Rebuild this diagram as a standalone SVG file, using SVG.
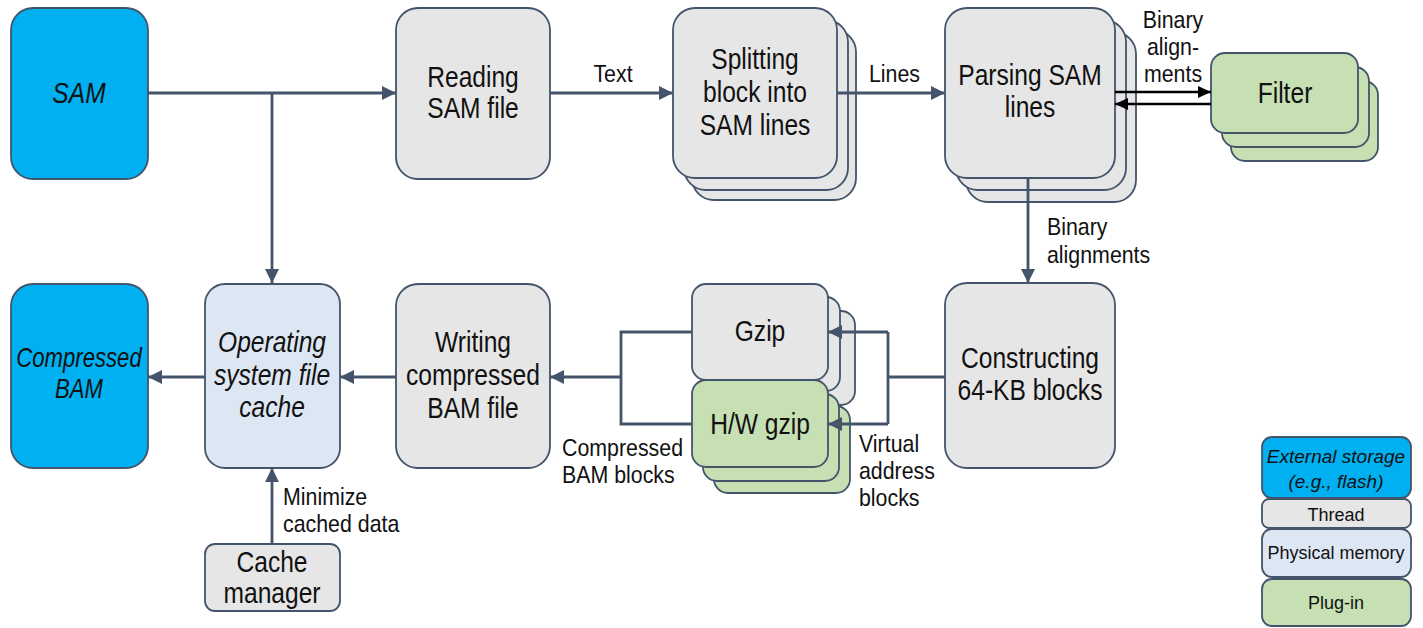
<svg xmlns="http://www.w3.org/2000/svg" width="1423" height="628" viewBox="0 0 1423 628">
<style>
.bx{stroke:#44546a;stroke-width:1.8}
.blue{fill:#00b0f0}
.grey{fill:#e6e6e6}
.lb{fill:#dde7f4}
.grn{fill:#c6e0b4}
.n{font-family:"Liberation Sans",Arial,sans-serif;font-size:30px;fill:#111;text-anchor:middle}
.it{font-style:italic}
.lab{font-family:"Liberation Sans",Arial,sans-serif;font-size:24px;fill:#111}
.mid{text-anchor:middle}
.leg{font-family:"Liberation Sans",Arial,sans-serif;font-size:18px;fill:#111;text-anchor:middle}
.c{fill:none;stroke:#44546a;stroke-width:2.8}
.k{fill:none;stroke:#000;stroke-width:2.4}
</style>
<defs>
<marker id="ah" markerUnits="userSpaceOnUse" markerWidth="15" markerHeight="14" refX="14" refY="7" orient="auto">
<path d="M0,0 L14,7 L0,14 z" fill="#44546a"/>
</marker>
<marker id="ak" markerUnits="userSpaceOnUse" markerWidth="14" markerHeight="12" refX="13" refY="6" orient="auto">
<path d="M0,0 L13,6 L0,12 z" fill="#000"/>
</marker>
</defs>
<rect width="1423" height="628" fill="#fff"/>

<g id="sam">
<rect class="bx blue" x="11" y="8" width="137" height="171" rx="22"/>
<text class="n it" transform="translate(79 0) scale(0.82 1)"><tspan x="0" y="103">SAM</tspan></text>
</g>

<g id="reading">
<rect class="bx grey" x="396" y="8" width="154" height="171" rx="22"/>
<text class="n" transform="translate(473 0) scale(0.82 1)"><tspan x="0" y="87">Reading</tspan><tspan x="0" y="118">SAM file</tspan></text>
</g>

<g id="splitting">
<rect class="bx grey" x="692" y="30" width="164" height="170" rx="22"/>
<rect class="bx grey" x="684" y="20" width="164" height="170" rx="22"/>
<rect class="bx grey" x="673" y="8" width="164" height="170" rx="22"/>
<text class="n" transform="translate(755 0) scale(0.82 1)"><tspan x="0" y="69">Splitting</tspan><tspan x="0" y="102">block into</tspan><tspan x="0" y="135">SAM lines</tspan></text>
</g>

<g id="parsing">
<rect class="bx grey" x="966" y="32" width="170" height="170" rx="22"/>
<rect class="bx grey" x="956" y="20" width="170" height="170" rx="22"/>
<rect class="bx grey" x="945" y="8" width="170" height="170" rx="22"/>
<text class="n" transform="translate(1030 0) scale(0.82 1)"><tspan x="0" y="85">Parsing SAM</tspan><tspan x="0" y="117">lines</tspan></text>
</g>

<g id="filter">
<rect class="bx grn" x="1231" y="81" width="147" height="80" rx="14"/>
<rect class="bx grn" x="1222" y="67" width="147" height="80" rx="14"/>
<rect class="bx grn" x="1211" y="53" width="147" height="80" rx="14"/>
<text class="n" transform="translate(1285 0) scale(0.82 1)"><tspan x="0" y="103">Filter</tspan></text>
</g>

<g id="compressed-bam">
<rect class="bx blue" x="11" y="284" width="137" height="184" rx="22"/>
<text class="n it" style="font-size:27px" transform="translate(79 0) scale(0.82 1)"><tspan x="0" y="367">Compressed</tspan><tspan x="0" y="398">BAM</tspan></text>
</g>

<g id="os-cache">
<rect class="bx lb" x="205" y="284" width="135" height="184" rx="20"/>
<text class="n it" transform="translate(272 0) scale(0.82 1)"><tspan x="0" y="352">Operating</tspan><tspan x="0" y="385">system file</tspan><tspan x="0" y="417">cache</tspan></text>
</g>

<g id="writing">
<rect class="bx grey" x="396" y="284" width="154" height="184" rx="22"/>
<text class="n" transform="translate(473 0) scale(0.82 1)"><tspan x="0" y="352">Writing</tspan><tspan x="0" y="385">compressed</tspan><tspan x="0" y="418">BAM file</tspan></text>
</g>

<g id="gzip">
<rect class="bx grey" x="719" y="311" width="136" height="94" rx="14"/>
<rect class="bx grey" x="704" y="297" width="136" height="94" rx="14"/>
<rect class="bx grey" x="692" y="284" width="136" height="96" rx="14"/>
<text class="n" transform="translate(760 0) scale(0.82 1)"><tspan x="0" y="341">Gzip</tspan></text>
</g>

<g id="hw-gzip">
<rect class="bx grn" x="714" y="406" width="136" height="87" rx="14"/>
<rect class="bx grn" x="703" y="394" width="136" height="87" rx="14"/>
<rect class="bx grn" x="692" y="380" width="136" height="87" rx="14"/>
<text class="n" transform="translate(760 0) scale(0.82 1)"><tspan x="0" y="434">H/W gzip</tspan></text>
</g>

<g id="constructing">
<rect class="bx grey" x="945" y="283" width="170" height="185" rx="22"/>
<text class="n" transform="translate(1030 0) scale(0.82 1)"><tspan x="0" y="368">Constructing</tspan><tspan x="0" y="400">64-KB blocks</tspan></text>
</g>

<g id="cache-manager">
<rect class="bx grey" x="205" y="544" width="135" height="67" rx="10"/>
<text class="n" transform="translate(272 0) scale(0.82 1)"><tspan x="0" y="572">Cache</tspan><tspan x="0" y="603">manager</tspan></text>
</g>

<g id="legend">
<rect class="bx blue" x="1262" y="437" width="149" height="61" rx="10"/>
<rect class="bx grey" x="1262" y="499" width="149" height="29" rx="7"/>
<rect class="bx lb" x="1262" y="529" width="149" height="48" rx="10"/>
<rect class="bx grn" x="1262" y="579" width="149" height="47" rx="10"/>
<text class="leg it" style="font-size:19px"><tspan x="1336" y="463">External storage</tspan><tspan x="1336" y="488">(e.g., flash)</tspan></text>
<text class="leg" x="1336" y="521">Thread</text>
<text class="leg" x="1336" y="559">Physical memory</text>
<text class="leg" x="1336" y="609">Plug-in</text>
</g>

<g id="connectors">
<path class="c" d="M148,93 H396" marker-end="url(#ah)"/>
<path class="c" d="M272,93 V283" marker-end="url(#ah)"/>
<path class="c" d="M550,93 H673" marker-end="url(#ah)"/>
<path class="c" d="M837,93 H945" marker-end="url(#ah)"/>
<path class="k" d="M1115,92 H1211" marker-end="url(#ak)"/>
<path class="k" d="M1211,104 H1115" marker-end="url(#ak)"/>
<path class="c" d="M1028,178 V283" marker-end="url(#ah)"/>
<path class="c" d="M945,377 H888 M888,332 V424"/>
<path class="c" d="M888,332 H828" marker-end="url(#ah)"/>
<path class="c" d="M888,424 H828" marker-end="url(#ah)"/>
<path class="c" d="M692,332 H621 V424 H692"/>
<path class="c" d="M621,377 H550" marker-end="url(#ah)"/>
<path class="c" d="M396,377 H340" marker-end="url(#ah)"/>
<path class="c" d="M205,377 H148" marker-end="url(#ah)"/>
<path class="c" d="M272,544 V468" marker-end="url(#ah)"/>
<text class="lab mid" transform="translate(613 0) scale(0.89 1)"><tspan x="0" y="82">Text</tspan></text>
<text class="lab" transform="translate(869 0) scale(0.89 1)"><tspan x="0" y="82">Lines</tspan></text>
<text class="lab mid" transform="translate(1173 0) scale(0.89 1)"><tspan x="0" y="28">Binary</tspan><tspan x="0" y="55">align-</tspan><tspan x="0" y="82">ments</tspan></text>
<text class="lab" transform="translate(1047 0) scale(0.89 1)"><tspan x="0" y="235">Binary</tspan><tspan x="0" y="263">alignments</tspan></text>
<text class="lab" transform="translate(562 0) scale(0.89 1)"><tspan x="0" y="456">Compressed</tspan><tspan x="0" y="483">BAM blocks</tspan></text>
<text class="lab" transform="translate(859 0) scale(0.89 1)"><tspan x="0" y="452">Virtual</tspan><tspan x="0" y="479">address</tspan><tspan x="0" y="506">blocks</tspan></text>
<text class="lab" transform="translate(283 0) scale(0.89 1)"><tspan x="0" y="505">Minimize</tspan><tspan x="0" y="532">cached data</tspan></text>
</g>
</svg>
